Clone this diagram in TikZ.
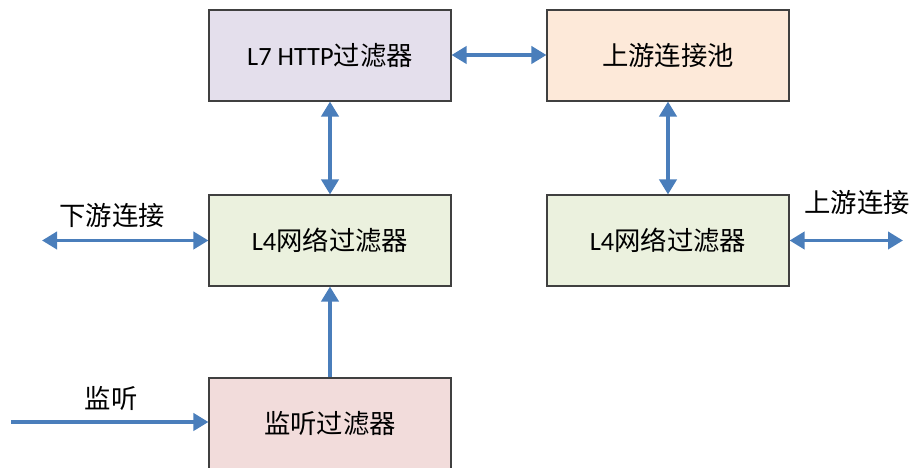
\documentclass[tikz,border=0pt]{standalone}
\usepackage{fontspec}
\setmainfont{Carlito}
\newfontfamily\cjk{Noto Sans CJK SC}
\usetikzlibrary{arrows.meta}

\definecolor{flowblue}{HTML}{4A7EBB}
\definecolor{boxline}{HTML}{404040}
\definecolor{lseven}{HTML}{E4DFEC}
\definecolor{pool}{HTML}{FDE9D9}
\definecolor{lfour}{HTML}{EBF1DE}
\definecolor{listen}{HTML}{F2DCDB}

\tikzset{
  filterbox/.style={draw=boxline, line width=0.6pt, minimum width=4.84cm,
    minimum height=1.82cm, inner sep=0pt, font=\fontsize{15}{17}\selectfont},
  flow/.style={draw=flowblue, line width=2.2pt,
    -{Triangle[length=0.3cm, width=0.34cm]}},
  biflow/.style={flow, {Triangle[length=0.3cm, width=0.34cm]}-{Triangle[length=0.3cm, width=0.34cm]}},
  tag/.style={font=\fontsize{15}{17}\selectfont\cjk, inner sep=0pt}
}

\begin{document}
\begin{tikzpicture}

      \useasboundingbox (0, 0) rectangle (18.26, -9.36);

      % filtres
      \node[filterbox, fill=lseven] (lseven) at (6.6, -1.11) {L7 HTTP{\cjk 过滤器}};
      \node[filterbox, fill=pool] (pool) at (13.36, -1.11) {\cjk 上游连接池};
      \node[filterbox, fill=lfour] (lfourdown) at (6.6, -4.81) {L4{\cjk 网络过滤器}};
      \node[filterbox, fill=lfour] (lfourup) at (13.36, -4.81) {L4{\cjk 网络过滤器}};
      \begin{scope}
        \clip (0, 0) rectangle (18.26, -9.36);
        \node[filterbox, fill=listen] (listen) at (6.6, -8.47) {\cjk 监听过滤器};
      \end{scope}

      % extremites libres
      \coordinate (down) at (0.84, -4.81);
      \coordinate (up) at (18.06, -4.81);
      \coordinate (port) at (0.22, -8.44);

      % connexions
      \draw[biflow] (lseven.east |- 0, -1.1) -- (pool.west |- 0, -1.1);
      \draw[biflow] (lseven.south) -- (lfourdown.north);
      \draw[biflow] (pool.south) -- (lfourup.north);
      \draw[biflow] (down) -- (lfourdown.west);
      \draw[biflow] (lfourup.east) -- (up);
      \draw[flow] (listen.north) -- (lfourdown.south);
      \draw[flow] (port) -- (port -| listen.west);

      % etiquettes
      \node[tag] (downtag) at (2.24, -4.3) {下游连接};
      \node[tag] (uptag) at (17.14, -4.05) {上游连接};
      \node[tag] (porttag) at (2.22, -7.96) {监听};
    \end{tikzpicture}
\end{document}
